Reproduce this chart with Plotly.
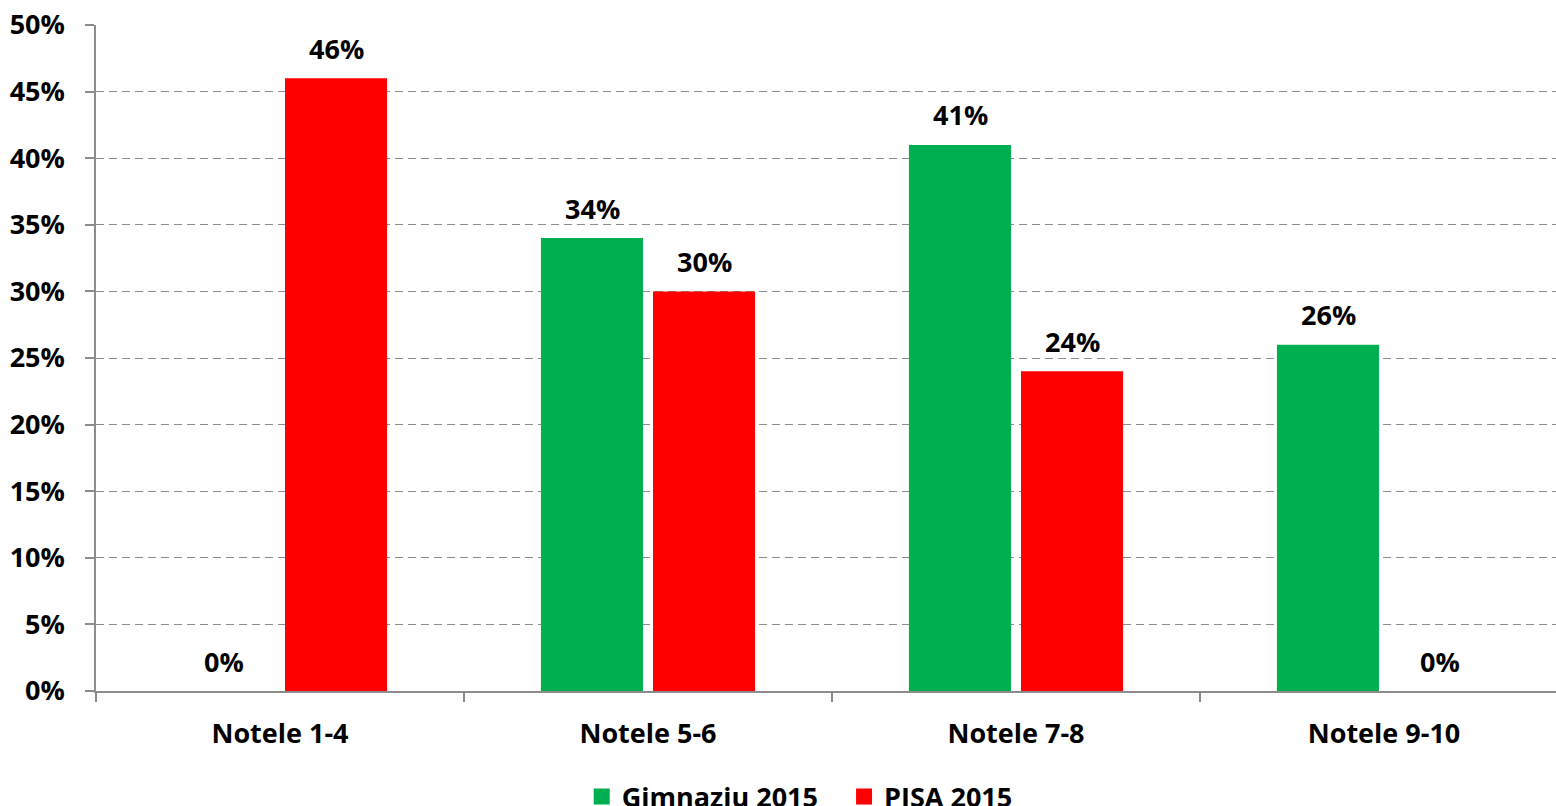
import plotly.graph_objects as go

categories = ["Notele 1-4", "Notele 5-6", "Notele 7-8", "Notele 9-10"]
gimnaziu = [0, 34, 41, 26]
pisa = [46, 30, 24, 0]
series_names = ["Gimnaziu 2015", "PISA 2015"]
y_ticks = [0, 5, 10, 15, 20, 25, 30, 35, 40, 45, 50]
y_labels = [f"{v}%" for v in y_ticks]

FONT = "Open Sans"
FS = 27
GREEN = "#00B050"
RED = "#FF0000"
AXIS = "#8C8C8C"

fig = go.Figure()
for name, vals, col in ((series_names[0], gimnaziu, GREEN), (series_names[1], pisa, RED)):
    fig.add_trace(go.Bar(name=name, x=categories, y=vals, showlegend=False,
                         marker=dict(color=col, line=dict(width=0))))
# legend entries (square swatches)
legend_pad = ["&nbsp;&nbsp;&nbsp;", ""]
for name, col, pad in zip(series_names, (GREEN, RED), legend_pad):
    fig.add_trace(go.Scatter(name=f"<b>{name}</b>{pad}", x=[None], y=[None], mode="markers",
                             marker=dict(symbol="square", size=18, color=col), showlegend=True))

annotations = []
for vals, shift in ((gimnaziu, -56), (pisa, 56)):
    for c, v in zip(categories, vals):
        annotations.append(dict(x=c, y=v, xref="x", yref="y", text=f"<b>{v}%</b>",
                                showarrow=False, xshift=shift, yshift=30,
                                font=dict(family=FONT, size=FS, color="black")))

fig.update_layout(
    width=1556, height=806,
    margin=dict(l=96, r=0, t=25, b=115, autoexpand=False),
    paper_bgcolor="white", plot_bgcolor="white",
    barmode="group", bargap=0.391, bargroupgap=0.089,
    font=dict(family=FONT, size=FS, color="black"),
    annotations=annotations,
    legend=dict(orientation="h", x=0.482, xanchor="center", y=-0.159, yanchor="middle",
                font=dict(family=FONT, size=FS, color="black"), itemwidth=30,
                itemsizing="trace", traceorder="normal", tracegroupgap=0),
    showlegend=True,
)
fig.update_xaxes(
    range=[-0.5, -0.5 + 1460 / 368], automargin=False,
    showline=True, linecolor=AXIS, linewidth=1.5,
    ticks="outside", tickson="boundaries", ticklen=9, tickcolor=AXIS, tickwidth=1.5,
    tickvals=categories, ticktext=[f"<b>{c}</b>" for c in categories],
    ticklabelstandoff=18, showgrid=False,
)
fig.update_yaxes(
    range=[0, 50], automargin=False,
    tickvals=y_ticks, ticktext=[f"<b>{t}</b>" for t in y_labels],
    showline=True, linecolor=AXIS, linewidth=1.5,
    ticks="outside", ticklen=9, tickcolor=AXIS, tickwidth=1.5,
    showgrid=True, gridcolor=AXIS, gridwidth=1.2, griddash="8px,5px",
    zeroline=False, ticklabelstandoff=15,
)
fig.write_html("out.html", config={"displayModeBar": False},
               post_script="document.body.style.margin='0';document.body.style.overflow='hidden';")
